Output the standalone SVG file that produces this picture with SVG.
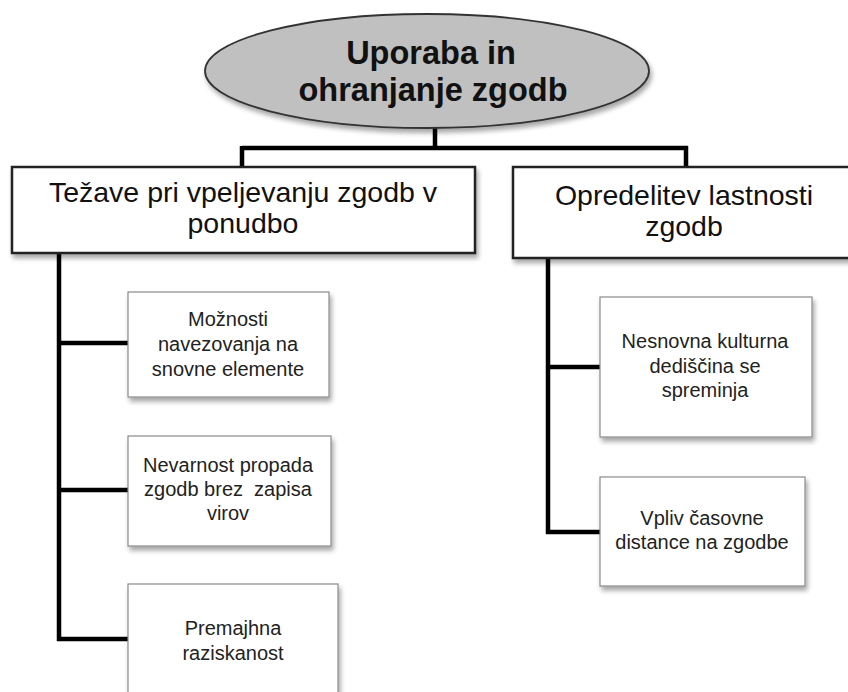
<svg xmlns="http://www.w3.org/2000/svg" width="848" height="692" viewBox="0 0 848 692">
<style>
.t{font-family:"Liberation Sans",Arial,sans-serif;text-anchor:middle;fill:#111}
.root{font-size:32.5px;font-weight:bold}
.lvl1{font-size:28.5px}
.lvl2{font-size:20px;fill:#222}
.box1{fill:#fff;stroke:#222;stroke-width:2.5}
.box2{fill:#fff;stroke:#8a8a8a;stroke-width:1.2}
.conn{fill:none;stroke:#000;stroke-width:4.5;stroke-linejoin:miter;stroke-linecap:butt}
</style>
<defs>
<filter id="sh" x="-10%" y="-10%" width="130%" height="140%">
<feGaussianBlur in="SourceAlpha" stdDeviation="2.5"/>
<feOffset dx="2" dy="4" result="o"/>
<feComponentTransfer><feFuncA type="linear" slope="0.35"/></feComponentTransfer>
<feMerge><feMergeNode/><feMergeNode in="SourceGraphic"/></feMerge>
</filter>
</defs>
<rect width="848" height="692" fill="#fff"/>
<g id="connectors">
<path class="conn" d="M435 126 V148 M242 148 H688 M242 146 V168 M686 146 V168"/>
<path class="conn" d="M59 253 V641 M57 343 H129 M57 490 H129 M57 639 H129"/>
<path class="conn" d="M548 258 V534 M546 367 H601 M546 532 H601"/>
</g>
<g id="root">
<ellipse cx="427" cy="71" rx="222" ry="57" fill="#c0c0c0" stroke="#333" stroke-width="1.8" filter="url(#sh)"/>
<text class="t root" x="431" y="64">Uporaba in</text>
<text class="t root" x="433" y="101">ohranjanje zgodb</text>
</g>
<g id="n_tezave">
<rect class="box1" x="12" y="167" width="463" height="86" filter="url(#sh)"/>
<text class="t lvl1" x="243" y="202">Težave pri vpeljevanju zgodb v</text>
<text class="t lvl1" x="243" y="233">ponudbo</text>
</g>
<g id="n_opredelitev">
<rect class="box1" x="513" y="167" width="342" height="91" filter="url(#sh)"/>
<text class="t lvl1" x="684" y="205">Opredelitev lastnosti</text>
<text class="t lvl1" x="684" y="236">zgodb</text>
</g>
<g id="n_moznosti">
<rect class="box2" x="128" y="292" width="201" height="105" filter="url(#sh)"/>
<text class="t lvl2" x="228" y="326">Možnosti</text>
<text class="t lvl2" x="228" y="351">navezovanja na</text>
<text class="t lvl2" x="228" y="376">snovne elemente</text>
</g>
<g id="n_nevarnost">
<rect class="box2" x="128" y="436" width="203" height="110" filter="url(#sh)"/>
<text class="t lvl2" x="228" y="472">Nevarnost propada</text>
<text class="t lvl2" x="228" y="496" xml:space="preserve">zgodb brez  zapisa</text>
<text class="t lvl2" x="228" y="520">virov</text>
</g>
<g id="n_premajhna">
<rect class="box2" x="128" y="584" width="210" height="130" filter="url(#sh)"/>
<text class="t lvl2" x="233" y="635">Premajhna</text>
<text class="t lvl2" x="233" y="660">raziskanost</text>
</g>
<g id="n_nesnovna">
<rect class="box2" x="600" y="297" width="212" height="140" filter="url(#sh)"/>
<text class="t lvl2" x="705" y="348">Nesnovna kulturna</text>
<text class="t lvl2" x="705" y="373">dediščina se</text>
<text class="t lvl2" x="705" y="397">spreminja</text>
</g>
<g id="n_vpliv">
<rect class="box2" x="600" y="477" width="205" height="109" filter="url(#sh)"/>
<text class="t lvl2" x="702" y="525">Vpliv časovne</text>
<text class="t lvl2" x="702" y="549">distance na zgodbe</text>
</g>
</svg>
